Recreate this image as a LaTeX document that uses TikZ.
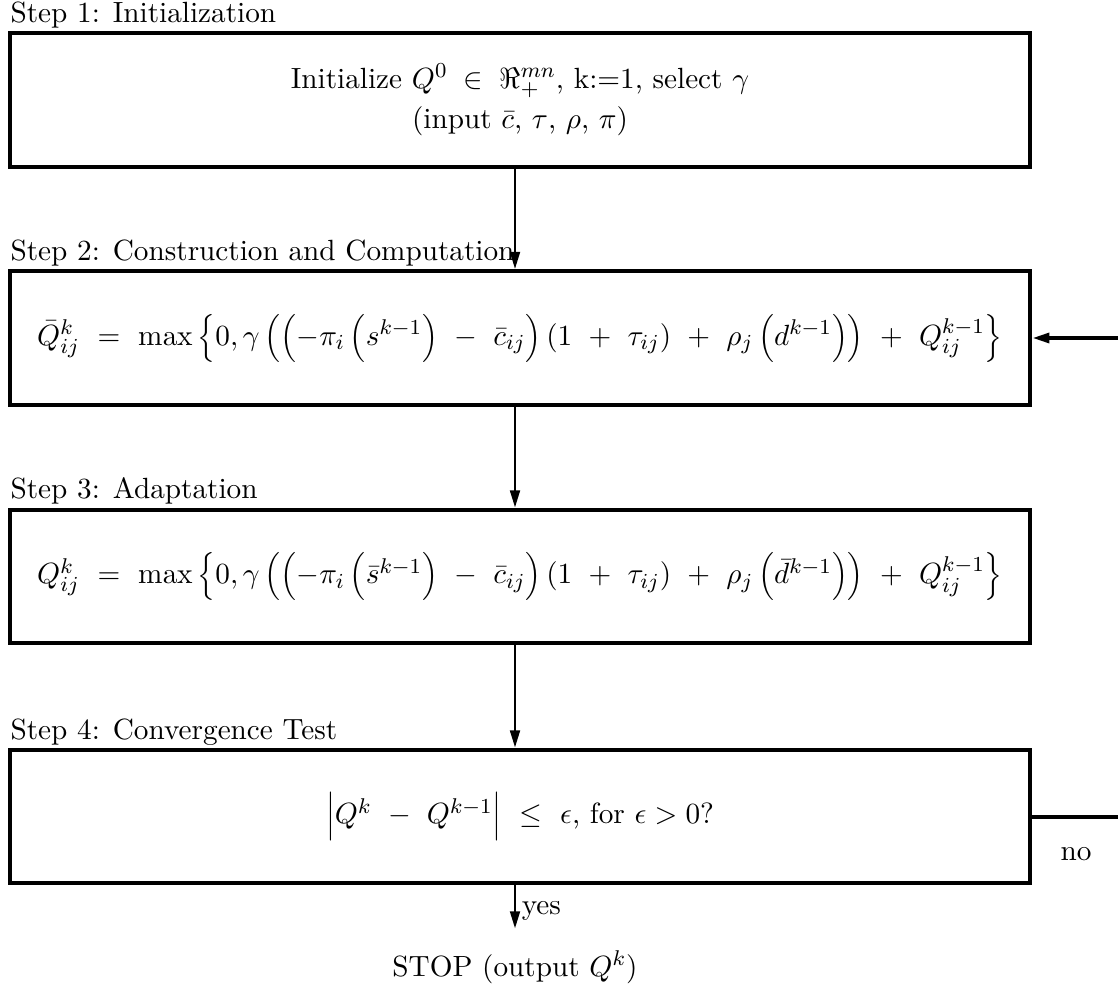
\documentclass[tikz,border=0pt]{standalone}
\usetikzlibrary{arrows.meta}
\begin{document}
\begin{tikzpicture}[x=0.3745pt,y=-0.3745pt,
  every node/.append style={font=\fontsize{10.95}{13.6}\selectfont},
  box/.style={draw, line width=1.5pt, minimum width=382pt, minimum height=50pt, inner sep=0pt, align=center},
  steplabel/.style={anchor=base west, inner sep=0pt},
  flow/.style={line width=1.1pt, -{Triangle[length=6.5pt,width=3.6pt]}},
  fb/.style={line width=1.5pt}]
\useasboundingbox (0,0) rectangle (1118,1002);
\coordinate (mx) at (515,0);
\coordinate (rx) at (1126,0);
\node[box] (b1) at (520,100) {Initialize $Q^0 \;\in\; \Re^{mn}_+$, k:=1, select $\gamma$\\[1.4pt]
(input $\bar{c}$, $\tau$, $\rho$, $\pi$)};
\node[box] (b2) at (520,338) {$\bar{Q}^k_{ij} \ = \ \max\left\{0, \gamma\left(\left(-\pi_i\left(s^{k-1}\right) \ - \ \bar{c}_{ij}\right)(1 \ + \ \tau_{ij}) \ + \ \rho_j\left(d^{k-1}\right)\right) \ + \ Q^{k-1}_{ij}\right\}$};
\node[box] (b3) at (520,576.5) {$Q^k_{ij} \ = \ \max\left\{0, \gamma\left(\left(-\pi_i\left(\bar{s}^{k-1}\right) \ - \ \bar{c}_{ij}\right)(1 \ + \ \tau_{ij}) \ + \ \rho_j\left(\bar{d}^{k-1}\right)\right) \ + \ Q^{k-1}_{ij}\right\}$};
\node[box] (b4) at (520,816.5) {$\left|Q^k \ - \ Q^{k-1}\right| \ \leq \ \epsilon$, for $\epsilon > 0$?};
\node[steplabel] (l1) at (10,23) {Step 1: Initialization};
\node[steplabel] (l2) at (10,261) {Step 2: Construction and Computation};
\node[steplabel] (l3) at (10,499) {Step 3: Adaptation};
\node[steplabel] (l4) at (10,739) {Step 4: Convergence Test};
\node[anchor=base, inner sep=0pt] (stop) at (515,976) {STOP (output $Q^k$)};
\node[anchor=base west, inner sep=0pt] (no) at (1060,860) {no};
\draw[flow] (b1.south -| mx) -- (b2.north -| mx);
\draw[flow] (b2.south -| mx) -- (b3.north -| mx);
\draw[flow] (b3.south -| mx) -- (b4.north -| mx);
\draw[flow, shorten >=8pt] (b4.south -| mx) -- node[pos=0.4, right, inner sep=2pt] (yes) {yes} (stop.north -| mx);
\draw[fb] (b4.east) -- (b4.east -| rx) -- (b2.east -| rx);
\draw[fb, -{Triangle[length=6.5pt,width=3.6pt]}] (b2.east -| rx) -- (b2.east);
\end{tikzpicture}
\end{document}
